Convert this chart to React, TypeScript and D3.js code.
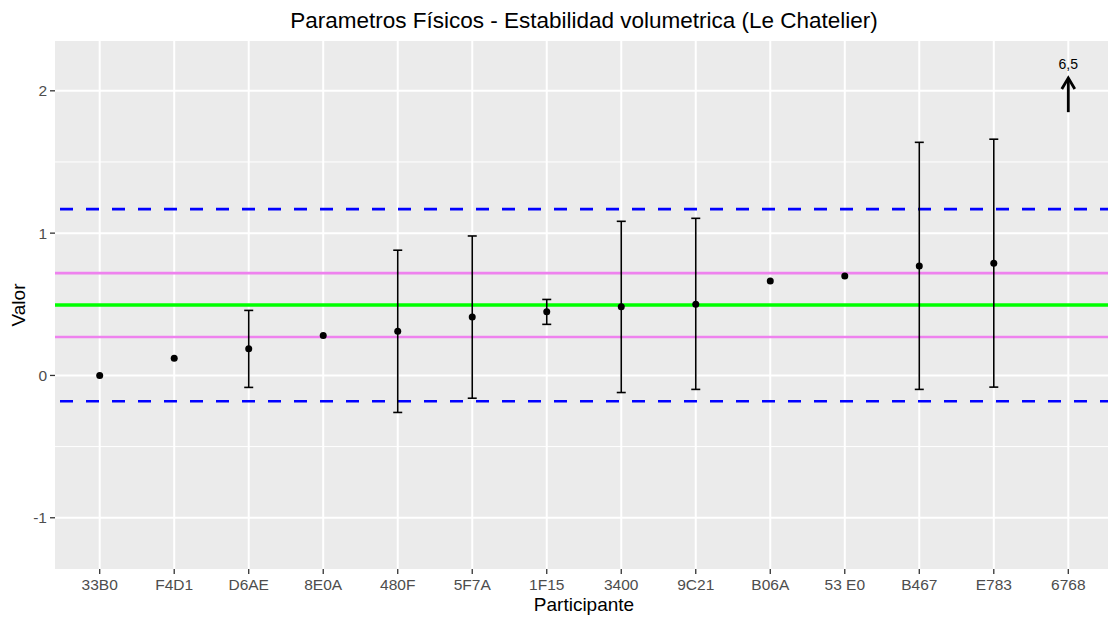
import React from "react";
import * as d3 from "d3";

const participants = ["33B0", "F4D1", "D6AE", "8E0A", "480F", "5F7A", "1F15", "3400", "9C21", "B06A", "53 E0", "B467", "E783", "6768"];
const values: (number | null)[] = [0, 0.12, 0.187, 0.281, 0.31, 0.41, 0.447, 0.482, 0.501, 0.663, 0.698, 0.769, 0.788, null];
const lowers: (number | null)[] = [null, null, -0.084, null, -0.26, -0.16, 0.359, -0.12, -0.098, null, null, -0.098, -0.082, null];
const uppers: (number | null)[] = [null, null, 0.457, null, 0.88, 0.98, 0.534, 1.083, 1.104, null, null, 1.638, 1.66, null];
const assignedValue = 0.495;
const innerLimits = [0.27, 0.719];
const outerLimits = [-0.181, 1.169];
const yTicks = [-1, 0, 1, 2];
const yMinor = [-0.5, 0.5, 1.5];
const outOfRange = { participant: "6768", label: "6,5", from: 1.85, to: 2.09, labelAt: 2.19 };

const W = 1108, H = 617;
const panel = { left: 55, right: 1113, top: 41, bottom: 569 };

export default function App() {
  const x = d3.scalePoint<string>().domain(participants).range([panel.left, panel.right]).padding(0.6);
  const y = d3.scaleLinear().domain([-1.36, 2.35]).range([panel.bottom, panel.top]);
  const font = "'Liberation Sans', Arial, sans-serif";
  const ax = x(outOfRange.participant)!;
  return (
    <svg width={W} height={H} style={{ position: "absolute", left: 0, top: 0, fontFamily: font }}>
      <rect x={0} y={0} width={W} height={H} fill="#fff" />
      <text x={(panel.left + panel.right) / 2} y={28} textAnchor="middle" fontSize={22.5} fill="#000">
        Parametros Físicos - Estabilidad volumetrica (Le Chatelier)
      </text>
      <rect x={panel.left} y={panel.top} width={panel.right - panel.left} height={panel.bottom - panel.top} fill="#ebebeb" />
      {yMinor.map((v) => (
        <line key={"mn" + v} x1={panel.left} x2={panel.right} y1={y(v)} y2={y(v)} stroke="#fff" strokeWidth={1} />
      ))}
      {yTicks.map((v) => (
        <line key={"mj" + v} x1={panel.left} x2={panel.right} y1={y(v)} y2={y(v)} stroke="#fff" strokeWidth={2} />
      ))}
      {participants.map((p) => (
        <line key={"vx" + p} x1={x(p)} x2={x(p)} y1={panel.top} y2={panel.bottom} stroke="#fff" strokeWidth={2} />
      ))}
      {outerLimits.map((v, i) => (
        <line key={"ol" + i} x1={panel.left} x2={panel.right} y1={y(v)} y2={y(v)} stroke="#0000ff" strokeWidth={2.6} strokeDasharray="13,13" strokeDashoffset={-5} />
      ))}
      {innerLimits.map((v, i) => (
        <line key={"il" + i} x1={panel.left} x2={panel.right} y1={y(v)} y2={y(v)} stroke="#ee82ee" strokeWidth={2.6} />
      ))}
      <line x1={panel.left} x2={panel.right} y1={y(assignedValue)} y2={y(assignedValue)} stroke="#00ff00" strokeWidth={3.5} />
      {participants.map((p, i) =>
        lowers[i] != null && uppers[i] != null ? (
          <g key={"eb" + p} stroke="#000" strokeWidth={1.6}>
            <line x1={x(p)} x2={x(p)} y1={y(lowers[i]!)} y2={y(uppers[i]!)} />
            <line x1={x(p)! - 4.5} x2={x(p)! + 4.5} y1={y(lowers[i]!)} y2={y(lowers[i]!)} />
            <line x1={x(p)! - 4.5} x2={x(p)! + 4.5} y1={y(uppers[i]!)} y2={y(uppers[i]!)} />
          </g>
        ) : null
      )}
      {participants.map((p, i) =>
        values[i] != null ? <circle key={"pt" + p} cx={x(p)} cy={y(values[i]!)} r={3.5} fill="#000" /> : null
      )}
      <g stroke="#000" strokeWidth={2.8} fill="none" strokeLinecap="butt">
        <line x1={ax} x2={ax} y1={y(outOfRange.from)} y2={y(outOfRange.to) + 1} />
        <polyline points={`${ax - 6.5},${y(outOfRange.to) + 11} ${ax},${y(outOfRange.to)} ${ax + 6.5},${y(outOfRange.to) + 11}`} />
      </g>
      <text x={ax} y={y(outOfRange.labelAt) + 5} textAnchor="middle" fontSize={14} fill="#000">
        {outOfRange.label}
      </text>
      {yTicks.map((v) => (
        <g key={"yt" + v}>
          <line x1={panel.left - 5} x2={panel.left} y1={y(v)} y2={y(v)} stroke="#333" strokeWidth={1.3} />
          <text x={panel.left - 8} y={y(v) + 5.5} textAnchor="end" fontSize={15.5} fill="#4d4d4d">
            {v}
          </text>
        </g>
      ))}
      {participants.map((p) => (
        <g key={"xt" + p}>
          <line x1={x(p)} x2={x(p)} y1={panel.bottom} y2={panel.bottom + 5} stroke="#333" strokeWidth={1.3} />
          <text x={x(p)} y={panel.bottom + 21} textAnchor="middle" fontSize={15.5} fill="#4d4d4d">
            {p}
          </text>
        </g>
      ))}
      <text x={(panel.left + panel.right) / 2} y={611} textAnchor="middle" fontSize={19} fill="#000">
        Participante
      </text>
      <text transform={`translate(25,${(panel.top + panel.bottom) / 2}) rotate(-90)`} textAnchor="middle" fontSize={19} fill="#000">
        Valor
      </text>
    </svg>
  );
}
